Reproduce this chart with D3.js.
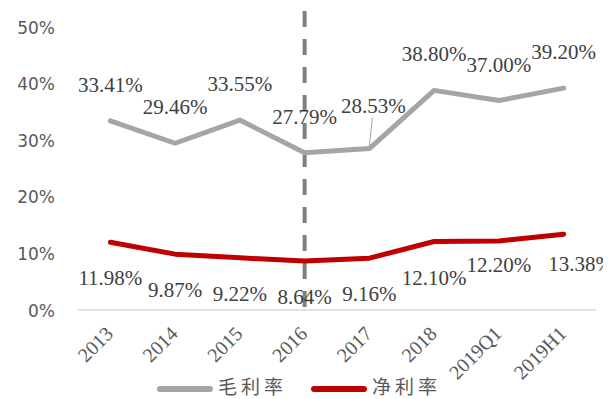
<!DOCTYPE html>
<html>
<head>
<meta charset="utf-8">
<script src="https://cdn.jsdelivr.net/npm/d3@7/dist/d3.min.js"></script>
<style>
  html, body { margin: 0; padding: 0; background: #fff; }
  svg { display: block; }
  .serif { font-family: "Liberation Serif", "DejaVu Serif", serif; }
</style>
</head>
<body>
<svg id="chart" width="614" height="399"></svg>
<script>
// Categories and series (percent values)
const categories = ["2013", "2014", "2015", "2016", "2017", "2018", "2019Q1", "2019H1"];
const grossMargin = [33.41, 29.46, 33.55, 27.79, 28.53, 38.80, 37.00, 39.20];
const netMargin   = [11.98, 9.87, 9.22, 8.64, 9.16, 12.10, 12.20, 13.38];
const yTicks = [0, 10, 20, 30, 40, 50];
const seriesNames = ["毛利率", "净利率"];
const markerCategory = "2016";

// Hand-placed label offsets (layout only), keyed by category
const grossLabelShift = { "2017": [4, -7] };
const netLabelShift   = { "2019Q1": [0, -12], "2019H1": [17, -6] };

const svg = d3.select("#chart");
const W = 614, H = 399;
const plot = { left: 78, right: 596, top: 27, bottom: 310 };

const x = d3.scaleBand().domain(categories).range([plot.left, plot.right]);
const cx = c => x(c) + x.bandwidth() / 2;
const y = d3.scaleLinear().domain([0, 50]).range([plot.bottom, plot.top]);

const grossColor = "#a5a5a5";
const netColor = "#c00000";
const labelColor = "#404040";
const axisText = "#595959";

svg.append("defs").append("clipPath").attr("id", "plotClip")
  .append("rect").attr("x", 0).attr("y", 0).attr("width", 603).attr("height", H);

// Y axis (labels only)
const yAxis = d3.axisLeft(y).tickValues(yTicks).tickFormat(d => d + "%").tickSize(0).tickPadding(0);
const yg = svg.append("g").attr("transform", `translate(55,0)`).call(yAxis);
yg.select(".domain").remove();
yg.attr("font-family", null);
yg.selectAll("text")
  .style("font-family", '"DejaVu Sans", sans-serif')
  .attr("font-size", 17)
  .attr("fill", axisText)
  .attr("dy", "0.36em");

// X baseline
svg.append("line")
  .attr("x1", plot.left).attr("x2", plot.right)
  .attr("y1", y(0)).attr("y2", y(0))
  .attr("stroke", "#d9d9d9").attr("stroke-width", 1.5);

// X axis labels, rotated
const xAxis = d3.axisBottom(x).tickSize(0).tickPadding(0);
const xg = svg.append("g").attr("transform", `translate(0,${y(0)})`).call(xAxis);
xg.select(".domain").remove();
xg.attr("font-family", null);
xg.selectAll(".tick text")
  .attr("class", "serif")
  .attr("font-size", 20)
  .attr("fill", axisText)
  .attr("text-anchor", "end")
  .attr("dy", 0)
  .attr("y", 0)
  .attr("transform", "translate(4,25) rotate(-45)");

// Dashed marker line
svg.append("line")
  .attr("x1", cx(markerCategory)).attr("x2", cx(markerCategory))
  .attr("y1", 11).attr("y2", y(0))
  .attr("stroke", "#7f7f7f").attr("stroke-width", 4)
  .attr("stroke-dasharray", "16,12");

const line = d3.line().x(d => cx(d.c)).y(d => y(d.v));
const grossData = categories.map((c, i) => ({ c, v: grossMargin[i] }));
const netData = categories.map((c, i) => ({ c, v: netMargin[i] }));

svg.append("path").datum(grossData)
  .attr("d", line).attr("fill", "none")
  .attr("stroke", grossColor).attr("stroke-width", 5)
  .attr("stroke-linejoin", "round").attr("stroke-linecap", "round");

svg.append("path").datum(netData)
  .attr("d", line).attr("fill", "none")
  .attr("stroke", netColor).attr("stroke-width", 5)
  .attr("stroke-linejoin", "round").attr("stroke-linecap", "round");

// Data labels
const labels = svg.append("g").attr("clip-path", "url(#plotClip)")
  .attr("class", "serif")
  .attr("font-size", 21)
  .attr("fill", labelColor)
  .attr("text-anchor", "middle");

grossData.forEach(d => {
  const [dx, dy] = grossLabelShift[d.c] || [0, 0];
  const lx = cx(d.c) + dx, ly = y(d.v) - 29 + dy;
  labels.append("text").attr("x", lx).attr("y", ly).text(d.v.toFixed(2) + "%");
  if (grossLabelShift[d.c]) {
    svg.append("line")
      .attr("x1", lx - 1).attr("y1", ly + 5)
      .attr("x2", cx(d.c)).attr("y2", y(d.v) - 3)
      .attr("stroke", grossColor).attr("stroke-width", 1);
  }
});

netData.forEach(d => {
  const [dx, dy] = netLabelShift[d.c] || [0, 0];
  labels.append("text")
    .attr("x", cx(d.c) + dx).attr("y", y(d.v) + 43 + dy)
    .text(d.v.toFixed(2) + "%");
});

// Legend
const legend = svg.append("g")
  .style("font-family", '"Noto Sans CJK SC", sans-serif')
  .attr("font-size", 19)
  .attr("fill", axisText);
const legendItems = [
  { name: seriesNames[0], color: grossColor, x0: 157 },
  { name: seriesNames[1], color: netColor, x0: 311 }
];
legendItems.forEach(it => {
  legend.append("line")
    .attr("x1", it.x0 + 3).attr("x2", it.x0 + 53)
    .attr("y1", 389).attr("y2", 389)
    .attr("stroke", it.color).attr("stroke-width", 6).attr("stroke-linecap", "round");
  legend.append("text")
    .attr("x", it.x0 + 61).attr("y", 394)
    .attr("letter-spacing", 4)
    .text(it.name);
});
</script>
</body>
</html>
